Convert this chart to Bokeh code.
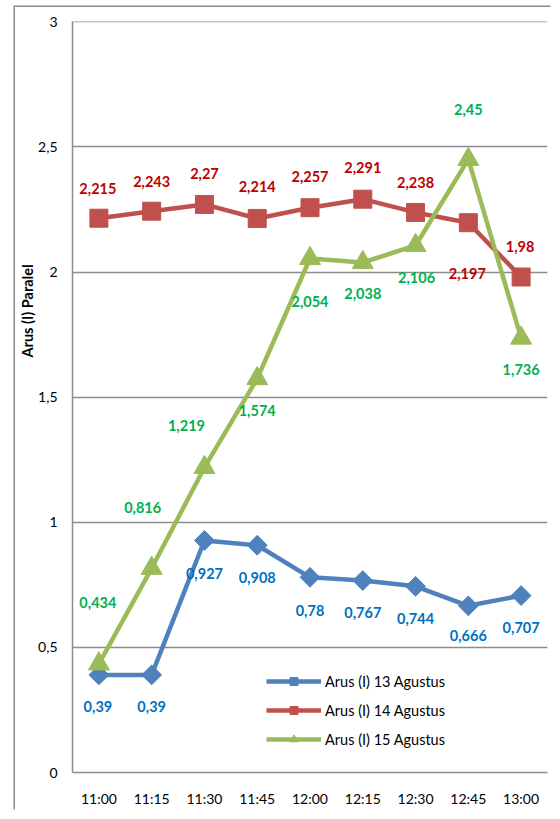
from bokeh.plotting import figure
from bokeh.models import (ColumnDataSource, FactorRange, Range1d, Legend, LegendItem,
                          Title, FixedTicker)
from bokeh.core.properties import value
from bokeh.embed import file_html
from bokeh.resources import INLINE
import math

# ---------------- data ----------------
times = ["11:00", "11:15", "11:30", "11:45", "12:00", "12:15", "12:30", "12:45", "13:00"]
arus_13 = [0.39, 0.39, 0.927, 0.908, 0.78, 0.767, 0.744, 0.666, 0.707]
arus_14 = [2.215, 2.243, 2.27, 2.214, 2.257, 2.291, 2.238, 2.197, 1.98]
arus_15 = [0.434, 0.816, 1.219, 1.574, 2.054, 2.038, 2.106, 2.45, 1.736]
series_names = ["Arus (I) 13 Agustus", "Arus (I) 14 Agustus", "Arus (I) 15 Agustus"]
y_ticks = [0, 0.5, 1, 1.5, 2, 2.5, 3]
y_tick_labels = ["0", "0,5", "1", "1,5", "2", "2,5", "3"]
y_title = "Arus (I) Paralel"

# label placement (pixels: dx right, dy up) - styling only
off_13 = [(-1, -32), (0, -32), (0, -33), (0, -32), (0, -33), (0, -32), (0, -32), (0, -30), (0, -32)]
off_14 = [(-1, 30), (0, 30), (0, 31), (0, 32), (0, 31), (0, 32), (0, 30), (-1, -51), (-1, 31)]
off_15 = [(-1, 61), (-9, 61), (-18, 42), (0, -32), (0, -43), (0, -31), (1, -32), (0, 50), (0, -31)]

line_colors = ["#4F81BD", "#C0504D", "#9BBB59"]
label_colors = ["#0070C0", "#C00000", "#00B050"]
FONT = "Lato"
GRID = "#8c8c8c"

p = figure(width=537, height=804, x_range=FactorRange(*times, range_padding=0),
           y_range=Range1d(0, 3.001), output_backend="svg", toolbar_location=None,
           min_border_left=57, min_border_top=14, min_border_right=5, min_border_bottom=39,
           styles={"margin-left": "15px", "margin-top": "7px",
                   "box-shadow": "-1.5px -1.5px 0px 0px #8c8c8c"})
p.background_fill_color = "white"
p.border_fill_color = "white"
p.outline_line_color = None

p.xgrid.grid_line_color = None
p.ygrid.grid_line_color = GRID
p.ygrid.grid_line_width = 1.5
p.yaxis.ticker = FixedTicker(ticks=y_ticks)
p.yaxis.major_label_overrides = {float(t): s for t, s in zip(y_ticks, y_tick_labels)}

for ax in (p.xaxis[0], p.yaxis[0]):
    ax.axis_line_color = GRID
    ax.axis_line_width = 1.5
    ax.major_tick_line_color = None
    ax.minor_tick_line_color = None
    ax.major_tick_out = 0
    ax.major_tick_in = 0
    ax.minor_tick_out = 0
    ax.minor_tick_in = 0
    ax.major_label_text_font = FONT
    ax.major_label_text_font_size = "14px"
    ax.major_label_text_color = "black"
p.yaxis.major_label_standoff = 15
p.xaxis.major_label_standoff = 17

# y-axis title placed as a left-side title
p.add_layout(Title(text=y_title, align="right", offset=243, standoff=0,
                   vertical_align="bottom", text_font=FONT,
                   text_font_size="14.5px", text_font_style="bold", text_color="black"), "left")

items = []
markers = [("square", 14, math.pi / 4), ("square", 18, 0), ("triangle", 21, 0)]
for vals, name, lc, tc, offs, (mk, ms, ang) in zip(
        [arus_13, arus_14, arus_15], series_names, line_colors, label_colors,
        [off_13, off_14, off_15], markers):
    src = ColumnDataSource(dict(
        x=times, y=vals,
        lbl=[str(v).replace(".", ",") for v in vals],
        dx=[o[0] for o in offs], dy=[-o[1] for o in offs]))
    ln = p.line("x", "y", source=src, line_color=lc, line_width=4.5)
    sc = p.scatter("x", "y", source=src, marker=mk, size=ms, angle=ang,
                   fill_color=lc, line_color=lc)
    p.text("x", "y", text="lbl", source=src, x_offset="dx", y_offset="dy",
           text_align="center", text_baseline="middle", text_color=tc,
           text_font=value(FONT), text_font_size="14.5px", text_font_style="bold")
    items.append(LegendItem(label=name, renderers=[ln, sc]))

legend = Legend(items=items, location=(194, 23), padding=0, margin=0,
                border_line_color=None, background_fill_alpha=0,
                glyph_width=55, glyph_height=20, label_height=20, spacing=9,
                label_standoff=4, label_text_font=FONT, label_text_font_size="14.5px",
                label_text_color="black")
p.add_layout(legend, "center")

open("out.html", "w").write(file_html(p, INLINE))
